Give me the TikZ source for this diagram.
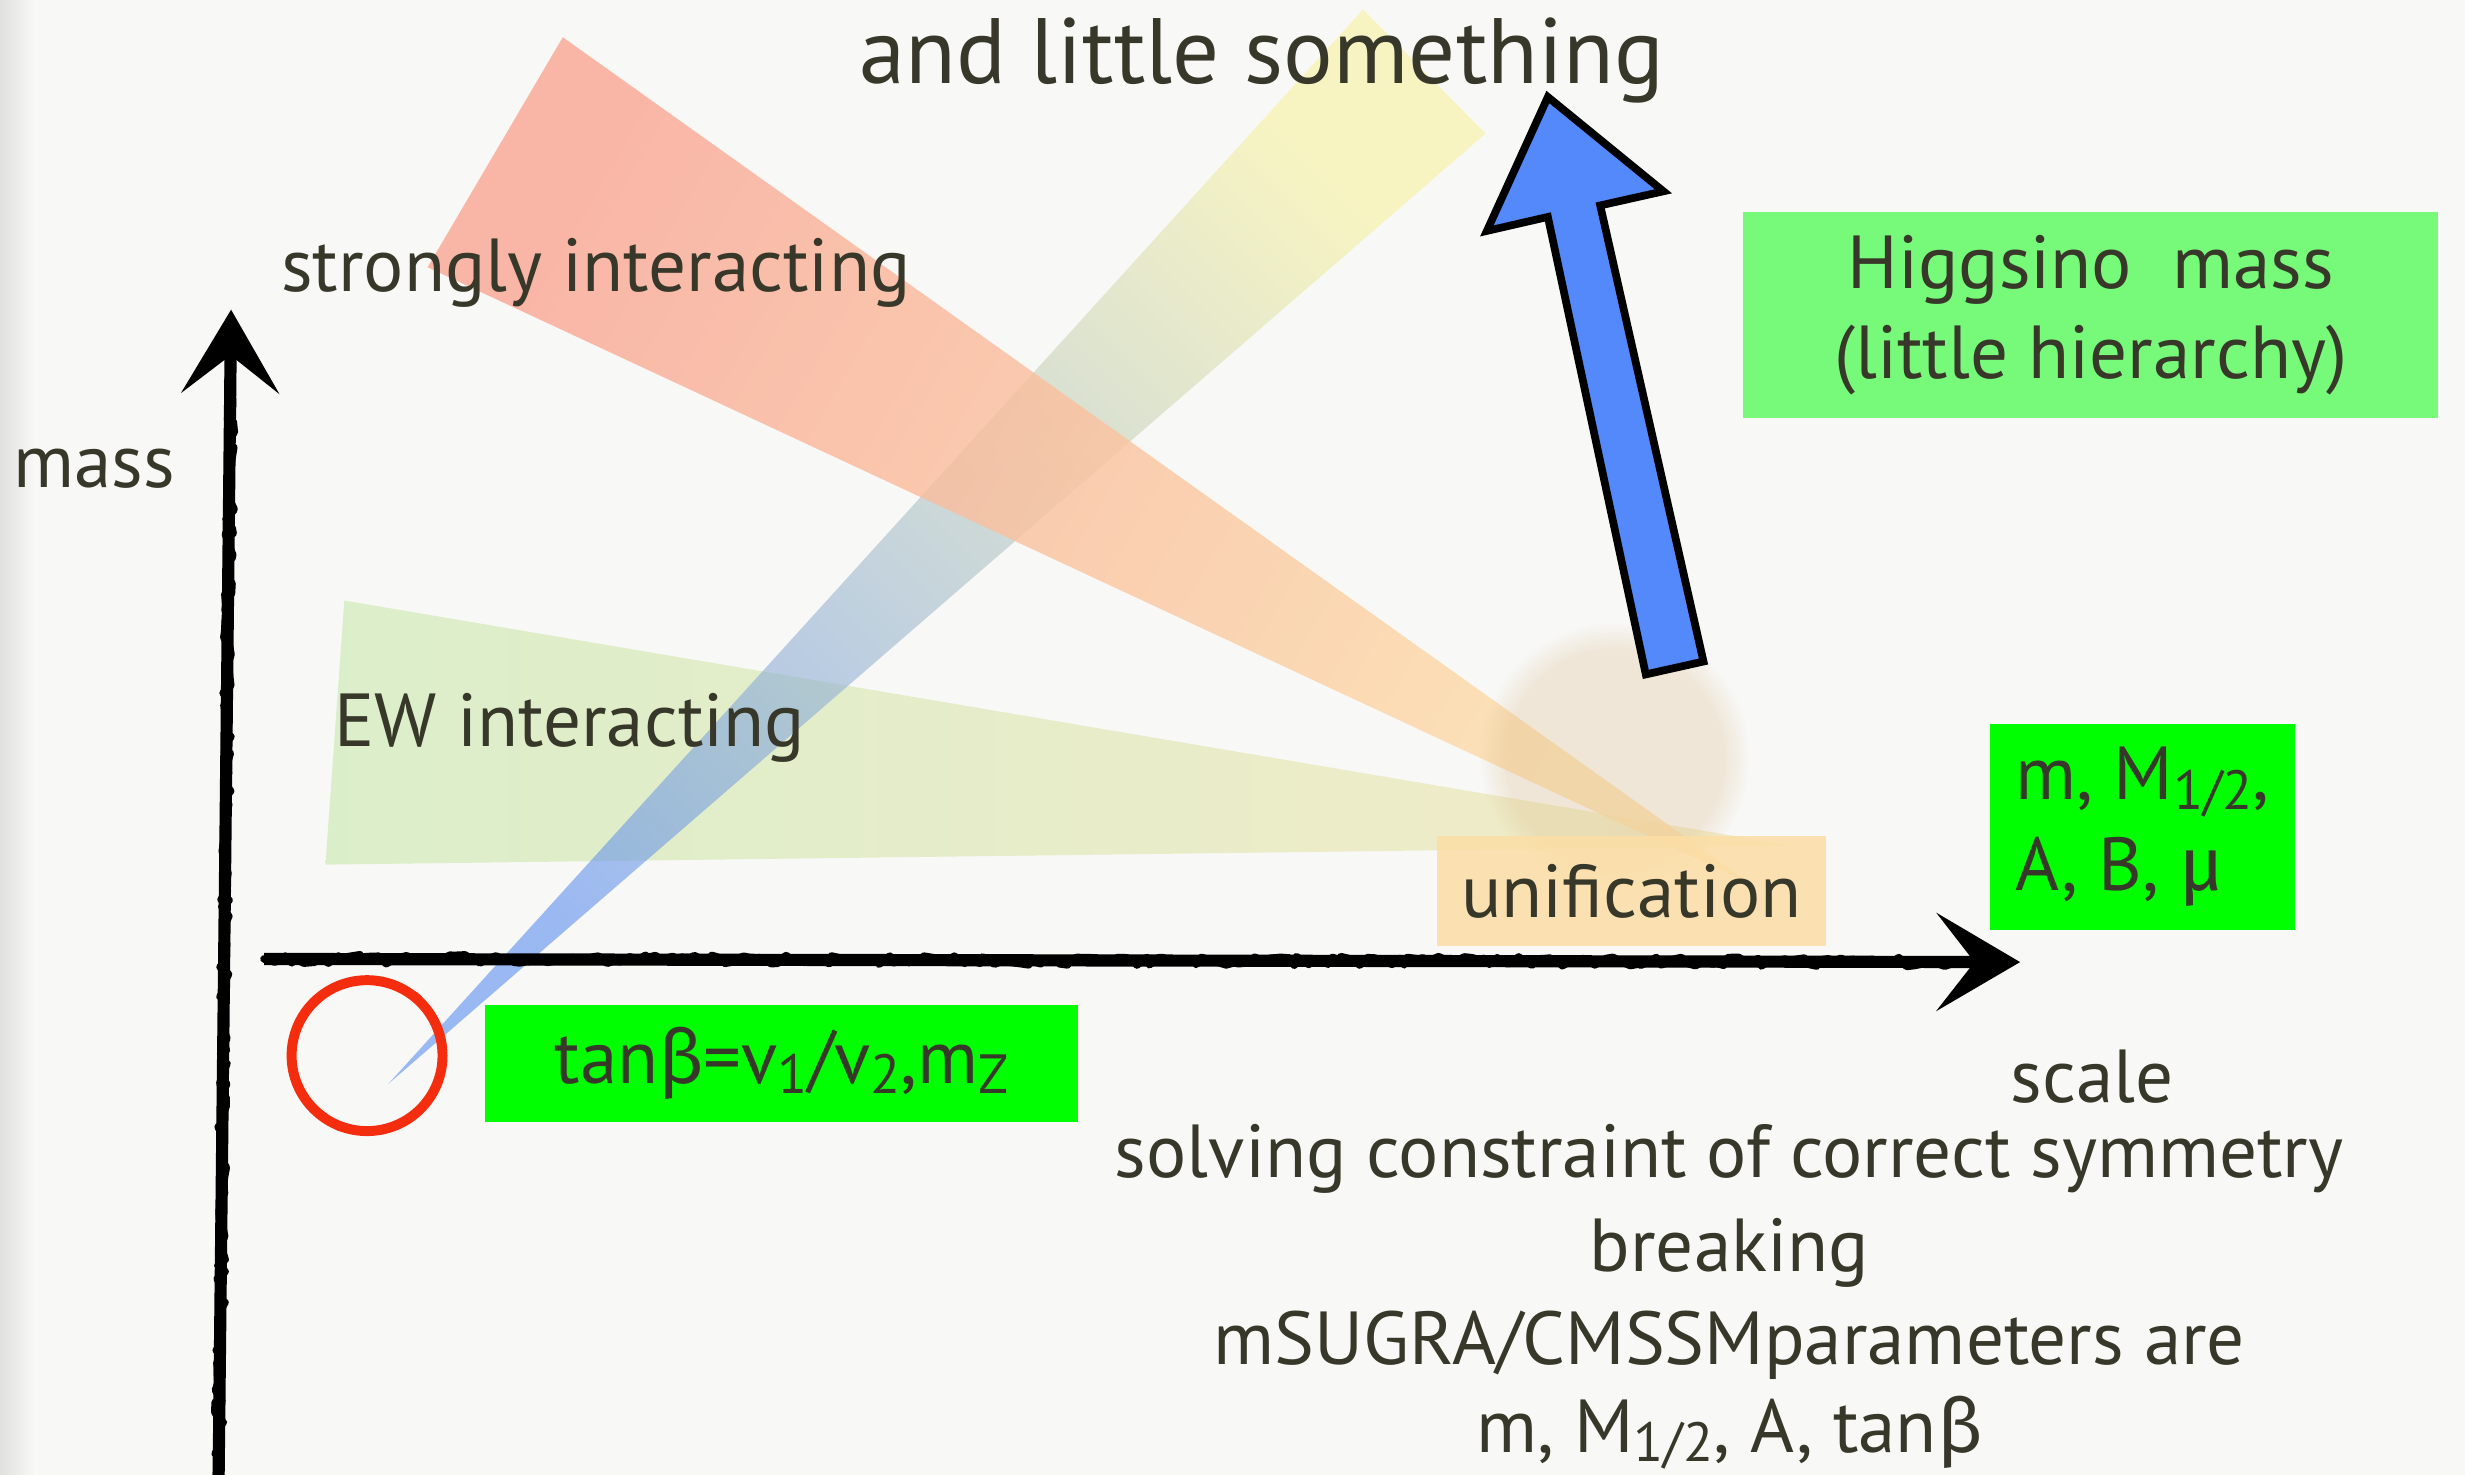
\documentclass[tikz,border=0pt]{standalone}
\usepackage{fontspec}
\setmainfont{PT Sans}
\newfontfamily\greekfont{Fira Sans}
\usetikzlibrary{arrows.meta,positioning,calc,fadings,decorations.pathmorphing}

\definecolor{paper}{RGB}{248,248,246}
\definecolor{ink}{RGB}{56,56,42}
\definecolor{salmon}{RGB}{250,166,148}
\definecolor{peach}{RGB}{252,222,168}
\definecolor{ewgreen}{RGB}{208,234,184}
\definecolor{ewcream}{RGB}{242,230,180}
\definecolor{skyblue}{RGB}{92,142,240}
\definecolor{lemon}{RGB}{248,242,160}
\definecolor{arrowblue}{RGB}{83,137,251}
\definecolor{chalkred}{RGB}{245,45,15}
\definecolor{boxgreen}{RGB}{0,255,0}
\definecolor{palegreen}{RGB}{119,249,122}
\definecolor{unibox}{RGB}{252,222,165}
\definecolor{glow}{RGB}{215,180,130}

\newcommand{\lowsub}[1]{\raisebox{-0.25ex}{\fontsize{10}{10}\selectfont #1}}
\newcommand{\gk}[1]{{\greekfont #1}}

\tikzset{
  lbl/.style={text=ink, font=\fontsize{13.6}{16.4}\selectfont, inner sep=0pt},
  bigtitle/.style={lbl, font=\fontsize{16.8}{20}\selectfont},
  gbox/.style={lbl, fill=boxgreen, align=center},
  hbox/.style={lbl, fill=palegreen, align=center},
  ubox/.style={lbl, fill=unibox, fill opacity=.85, text opacity=1},
  axis/.style={line width=2.2pt, black, -{Stealth[length=5.3mm,width=6.2mm,inset=2.4mm]}},
  chalk/.style={line width=1.4pt, black, line join=round, line cap=round, decorate,
    decoration={random steps, segment length=1.2pt, amplitude=.8pt}},
  ring/.style={circle, draw=chalkred, line width=1.8pt, minimum size=9.6mm, inner sep=0pt},
  redchalk/.style={chalkred, line width=.8pt, line join=round, decorate,
    decoration={random steps, segment length=1pt, amplitude=.5pt}},
  bigarrow/.style={fill=arrowblue, draw=black, line width=1.4pt, line join=miter},
}

\begin{document}
\begin{tikzpicture}[x=0.1mm, y=0.1mm]
\useasboundingbox (0,0) rectangle (1568,-938);
% paper
\fill[paper] (0,0) rectangle (1568,-938);
\shade[left color=black!12, right color=paper] (0,0) rectangle (22,-938);

% cones
\shade[left color=ewgreen, right color=ewcream, fill opacity=.7]
  (219,-382) -- (207,-550) -- (1140,-538) -- cycle;
\shade[bottom color=skyblue, top color=lemon, shading angle=-45, fill opacity=.6]
  (247,-689.5) -- (867,-6) -- (945,-85) -- cycle;
\shade[bottom color=peach, top color=salmon, shading angle=60, fill opacity=.8]
  (358,-23.7) -- (272,-170) -- (1115,-563) -- cycle;

% glow around the unification point
\fill[glow, opacity=.26, path fading=circle with fuzzy edge 20 percent]
  (1027,-482) circle [radius=8.6mm];

% Higgsino arrow
\draw[bigarrow] (984.6,-61.7) -- (1058.1,-121.7) -- (1017.9,-130.7)
  -- (1083.6,-420.8) -- (1046.9,-429) -- (984.6,-138) -- (945.8,-146.9) -- cycle;

% axes
\coordinate (ybot) at (139,-945);
\coordinate (ytop) at (147,-197);
\coordinate (xleft) at (168,-610);
\coordinate (xright) at (1285,-612);
\draw[axis] (ybot) -- (ytop);
\draw[axis] (xleft) -- (xright);
\draw[chalk] (ybot) -- ($(ytop)+(0,-40)$);
\draw[chalk] (xleft) -- ($(xright)+(-40,0)$);

% low scale input
\node[ring] (vev) at (233.5,-671.5) {};
\draw[redchalk] (vev.center) circle [radius=4.8mm];

% boxes
\node[gbox, minimum width=37.7mm, minimum height=7.5mm] (tanb) at (497.3,-676.5)
  {tan\gk{β}=v\lowsub{1}/v\lowsub{2},m\lowsub{Z}};
\node[ubox, minimum width=24.75mm, minimum height=7.04mm] (unif) at (1037.75,-566.8)
  {unification};
\node[gbox, minimum width=19.4mm, minimum height=13.15mm, align=left] (params) at (1363,-526)
  {m, M\lowsub{1/2},\\A, B, \gk{μ}};
\node[hbox, minimum width=44.2mm, minimum height=13.1mm] (higgsino) at (1330,-200.5)
  {Higgsino\ \ mass\\(little hierarchy)};

% labels
\node[bigtitle, anchor=base] (title) at (802.5,-53) {and little something};
\node[lbl, anchor=base] (strong) at (379,-185.5) {strongly interacting};
\node[lbl, anchor=base] (ew) at (362.5,-475) {EW interacting};
\node[lbl, anchor=base] (mass) at (60,-310) {mass};
\node[lbl, anchor=base] (scale) at (1331,-701.6) {scale};
\node[lbl, anchor=base] (line1) at (1100,-749) {solving constraint of correct symmetry};
\node[lbl, anchor=base] (line2) at (1100,-809) {breaking};
\node[lbl, anchor=base] (line3) at (1100,-868) {mSUGRA/CMSSMparameters are};
\node[lbl, anchor=base] (line4) at (1100,-924) {m, M\lowsub{1/2}, A, tan\gk{β}};
\end{tikzpicture}
\end{document}
